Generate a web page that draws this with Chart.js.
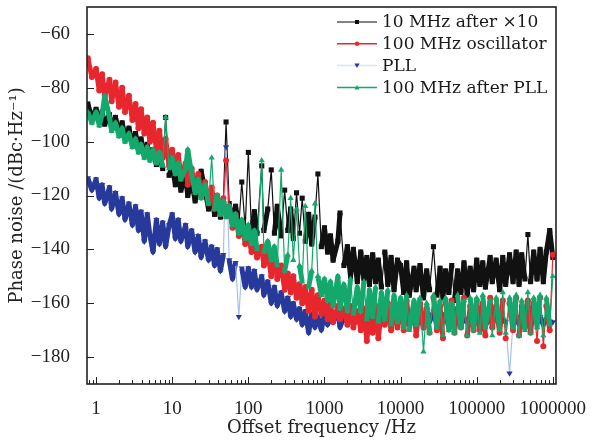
<!DOCTYPE html>
<html lang="en">
<head>
    <meta charset="UTF-8">
    <title>Phase noise</title>
    <script src="https://cdn.jsdelivr.net/npm/chart.js"></script>
    <style>
        body {
            margin: 0;
            background-color: #ffffff;
        }
        canvas {
            display: block;
        }
    </style>
</head>
<body>
    <canvas id="chart" width="593" height="441"></canvas>

    <script>
        // offset frequencies (Hz), shared by all four traces
        const freq = [0.78, 0.88,
            1, 1.1, 1.2, 1.3, 1.5, 1.6, 1.8, 2, 2.2, 2.4, 2.7, 3, 3.3, 3.6, 3.9, 4.3, 4.7, 5.1, 5.6, 6.2, 6.8, 7.5, 8.2, 9.1,
            10, 11, 12, 13, 15, 16, 18, 20, 22, 24, 27, 30, 33, 36, 39, 43, 47, 51, 56, 62, 68, 75, 82, 91,
            100, 110, 120, 130, 150, 160, 180, 200, 220, 240, 270, 300, 330, 360, 390, 430, 470, 510, 560, 620, 680, 750, 820, 910,
            1000, 1100, 1200, 1300, 1500, 1600, 1800, 2000, 2200, 2400, 2700, 3000, 3300, 3600, 3900, 4300, 4700, 5100, 5600, 6200, 6800, 7500, 8200, 9100,
            10000, 11000, 12000, 13000, 15000, 16000, 18000, 20000, 22000, 24000, 27000, 30000, 33000, 36000, 39000, 43000, 47000, 51000, 56000, 62000, 68000, 75000, 82000, 91000,
            100000, 110000, 120000, 130000, 150000, 160000, 180000, 200000, 220000, 240000, 270000, 300000, 330000, 360000, 390000, 430000, 470000, 510000, 560000, 620000, 680000, 750000, 820000, 910000,
            1000000];

        // 10 MHz after x10 (dBc/Hz)
        const tenMhzX10 = [-86, -91,
            -88, -92, -89, -93.5, -90, -95, -91, -96.5, -93, -98, -95, -100.5, -97, -102, -99, -104.5, -101, -106, -103, -108.5, -105, -110, -91, -112.5,
            -109, -116, -111, -118, -113, -120, -115, -122, -117, -111, -118, -125, -120, -127, -121, -128, -122, -92.7, -123, -130, -124, -131, -115, -132,
            -104, -133, -126, -134, -109, -133, -125, -110.5, -134, -124, -135, -118, -133, -125, -136, -119, -134, -121, -137, -127, -138, -128, -112, -139,
            -132, -141, -135, -144, -137, -126.5, -146, -139, -150, -140, -152, -141, -151, -143, -153, -142, -152, -144, -154, -141, -153, -143, -155, -144,
            -146, -156, -145, -157, -147, -155, -146, -158, -148, -155, -139, -157, -147, -158, -148, -156, -146, -159, -148, -156, -145, -157, -147, -155,
            -144, -153, -145, -154, -143, -152, -144, -155, -143, -153, -142, -152, -141, -153, -142, -151, -134.5, -152, -141, -151, -140, -152, -141, -133,
            -143];

        // 100 MHz oscillator
        const osc100 = [-69, -76,
            -73, -81, -75, -83, -77, -85, -78, -87, -80, -89, -83, -92, -86, -95, -88, -97, -91, -100, -93, -103, -96, -106, -99, -109,
            -103, -111, -105, -113, -108, -116, -110, -118, -112, -120, -115, -123, -117, -125, -120, -127, -121, -107, -124, -132, -127, -135, -130, -138,
            -134, -141, -136, -143, -139, -146, -141, -150, -143, -151, -146, -155, -149, -156, -150, -158, -153, -160, -154, -163, -155, -165, -157, -164,
            -159, -166, -160, -167, -161, -166, -162, -168, -161, -169, -163, -170, -162, -174, -164, -171, -161, -173, -163, -168, -160, -170, -162, -169,
            -160, -170, -159, -168, -161, -172, -160, -169, -162, -171, -158, -170, -161, -173, -160, -168, -159, -171, -162, -169, -158, -172, -161, -170,
            -159, -170, -160, -172, -158, -169, -161, -171, -159, -173, -160, -170, -158, -172, -161, -169, -159, -171, -160, -174, -158, -176, -161, -170,
            -142];

        // PLL
        const pll = [-113.5, -118,
            -114, -121, -116, -123, -117, -125, -119, -127, -121, -129, -123, -131, -124, -133, -126, -137, -127, -135, -141, -129, -138, -130, -139, -131,
            -127, -136, -129, -137, -131, -139, -133, -141, -135, -143, -137, -144, -139, -146, -140, -148, -142, -102, -144, -151, -145, -165, -147, -154,
            -147, -154, -148, -155, -150, -157, -152, -160, -154, -161, -156, -163, -158, -165, -160, -166, -162, -168, -163, -171, -164, -169, -165, -170,
            -164, -168, -165, -167, -163, -169, -165, -167, -164, -168, -166, -167, -164, -169, -165, -167, -163, -168, -166, -167, -164, -169, -165, -167,
            -165, -167, -163, -168, -166, -167, -164, -169, -165, -167, -163, -168, -166, -167, -164, -169, -165, -167, -163, -168, -166, -167, -164, -168,
            -165, -167, -166, -168, -166, -167, -165, -168, -166, -167, -186, -167, -165, -168, -166, -167, -164, -168, -166, -167, -165, -168, -166, -167,
            -167];

        // 100 MHz after PLL
        const afterPll = [-89, -93,
            -89, -94, -90, -83, -91, -96, -93, -98, -95, -100, -97, -102, -99, -104, -101, -106, -102, -107, -103, -108, -104, -109, -91, -110,
            -106, -112, -108, -114, -110, -103, -112, -119, -114, -121, -116, -123, -106, -125, -120, -127, -122, -128, -124, -131, -127, -134, -129, -136,
            -131, -138, -133, -140, -107, -141, -137, -144, -139, -146, -110.5, -148, -142, -121, -144, -125, -146, -152, -124, -154, -148, -123, -150, -157,
            -151, -159, -152, -161, -150, -162, -153, -163, -151, -164, -154, -163, -152, -166, -155, -165, -154, -167, -156, -166, -155, -168, -157, -167,
            -158, -169, -157, -170, -159, -168, -158, -178, -160, -171, -157, -169, -159, -172, -158, -170, -160, -171, -157, -169, -159, -172, -158, -170,
            -158, -171, -157, -169, -159, -172, -158, -170, -156, -171, -158, -169, -157, -172, -159, -170, -156, -171, -158, -169, -157, -172, -158, -168,
            -150];

        const xTicks = [1, 10, 100, 1000, 10000, 100000, 1000000];
        const yTicks = [-180, -160, -140, -120, -100, -80, -60];

        const serif = '"DejaVu Serif", serif';
        const tickFont = { family: '"Liberation Serif", serif', size: 19 };

        const series = [
            { label: '10 MHz after \u00d710', values: tenMhzX10, line: '#111111', spur: '#111111', fill: '#111111', legendLine: '#5a5a5a', style: 'rect', r: 3.6, rot: 0, order: 3 },
            { label: '100 MHz oscillator', values: osc100, line: '#e8262d', spur: '#e8262d', fill: '#e8262d', legendLine: '#e8262d', style: 'circle', r: 3, rot: 0, order: 1 },
            { label: 'PLL', values: pll, line: '#27399a', spur: '#a9c2e8', fill: '#27399a', legendLine: '#d6e4f6', style: 'triangle', r: 3.6, rot: 180, order: 2 },
            { label: '100 MHz after PLL', values: afterPll, line: '#14a86c', spur: '#14a86c', fill: '#14a86c', legendLine: '#14a86c', style: 'triangle', r: 3.6, rot: 0, order: 0 }
        ];

        // frame, inward ticks and the legend in the top-right corner
        const decor = {
            id: 'decor',
            afterDatasetsDraw(chart) {
                const { ctx, chartArea: a } = chart;
                const xs = chart.scales.x, ys = chart.scales.y;
                ctx.save();
                ctx.strokeStyle = '#222';
                ctx.lineWidth = 1;
                ctx.beginPath();
                for (let e = -1; e <= 6; e++) {
                    for (let m = 1; m <= 9; m++) {
                        const v = m * Math.pow(10, e);
                        if (v < xs.min || v > xs.max) continue;
                        const px = Math.round(xs.getPixelForValue(v)) + 0.5;
                        const len = m === 1 ? 7 : 4;
                        ctx.moveTo(px, a.bottom);
                        ctx.lineTo(px, a.bottom - len);
                    }
                }
                yTicks.forEach(v => {
                    const py = Math.round(ys.getPixelForValue(v)) + 0.5;
                    ctx.moveTo(a.left, py);
                    ctx.lineTo(a.left + 7, py);
                });
                ctx.stroke();
                ctx.lineWidth = 1.6;
                ctx.strokeRect(a.left, a.top, a.right - a.left, a.bottom - a.top);

                // legend
                ctx.font = '17px ' + serif;
                ctx.textBaseline = 'middle';
                ctx.textAlign = 'left';
                series.forEach((s, i) => {
                    const yy = a.top + 15 + i * 21.8;
                    const x0 = a.right - 219, x1 = a.right - 179, xm = (x0 + x1) / 2;
                    ctx.strokeStyle = s.legendLine;
                    ctx.lineWidth = 1.5;
                    ctx.beginPath();
                    ctx.moveTo(x0, yy);
                    ctx.lineTo(x1, yy);
                    ctx.stroke();
                    ctx.fillStyle = s.fill;
                    ctx.beginPath();
                    if (s.style === 'rect') {
                        ctx.rect(xm - 2, yy - 2, 4, 4);
                    } else if (s.style === 'circle') {
                        ctx.arc(xm, yy, 2.2, 0, Math.PI * 2);
                    } else if (s.rot === 180) {
                        ctx.moveTo(xm - 2.6, yy - 2);
                        ctx.lineTo(xm + 2.6, yy - 2);
                        ctx.lineTo(xm, yy + 2.5);
                    } else {
                        ctx.moveTo(xm - 2.6, yy + 2);
                        ctx.lineTo(xm + 2.6, yy + 2);
                        ctx.lineTo(xm, yy - 2.5);
                    }
                    ctx.fill();
                    ctx.fillStyle = '#1a1a1a';
                    ctx.fillText(s.label, a.right - 174, yy + 1);
                });
                ctx.restore();
            }
        };

        // big jumps (spurs) are drawn as thin lines, the noise floor as a thick band
        const isSpur = c => Math.abs(c.p1.parsed.y - c.p0.parsed.y) > 12;

        const datasets = series.map(s => ({
            label: s.label,
            data: freq.map((f, i) => ({ x: f, y: s.values[i] })),
            borderColor: s.line,
            borderWidth: 5,
            borderJoinStyle: 'round',
            backgroundColor: s.fill,
            pointBackgroundColor: s.fill,
            pointBorderColor: s.fill,
            pointBorderWidth: 0,
            pointStyle: s.style,
            pointRotation: s.rot,
            pointRadius: s.r,
            tension: 0,
            order: s.order,
            segment: {
                borderWidth: c => (isSpur(c) ? 1.2 : 5),
                borderColor: c => (isSpur(c) ? s.spur : s.line)
            }
        }));

        new Chart(document.getElementById('chart'), {
            type: 'line',
            data: { datasets: datasets },
            options: {
                responsive: false,
                animation: false,
                layout: { padding: { left: 0, right: 37, top: 7, bottom: 0 } },
                plugins: {
                    legend: { display: false },
                    tooltip: { enabled: false }
                },
                scales: {
                    x: {
                        type: 'logarithmic',
                        min: 0.76,
                        max: 1100000,
                        afterBuildTicks: scale => { scale.ticks = xTicks.map(v => ({ value: v })); },
                        afterFit: scale => {
                            scale.height = 57;
                            scale.paddingLeft = 0;
                            scale.paddingRight = 0;
                        },
                        ticks: {
                            autoSkip: false,
                            maxRotation: 0,
                            padding: 6,
                            color: '#222',
                            font: tickFont,
                            callback: v => String(v)
                        },
                        grid: { display: false },
                        border: { display: false },
                        title: {
                            display: true,
                            text: 'Offset frequency /Hz',
                            color: '#222',
                            font: { family: serif, size: 18 },
                            padding: { top: 0, bottom: 2 }
                        }
                    },
                    y: {
                        type: 'linear',
                        min: -190,
                        max: -50,
                        afterBuildTicks: scale => { scale.ticks = yTicks.map(v => ({ value: v })); },
                        afterFit: scale => {
                            scale.width = 87;
                            scale.paddingTop = 0;
                            scale.paddingBottom = 0;
                        },
                        ticks: {
                            padding: 9,
                            color: '#222',
                            font: tickFont,
                            callback: v => (v < 0 ? '\u2212' + (-v) : String(v))
                        },
                        grid: { display: false },
                        border: { display: false },
                        title: {
                            display: true,
                            text: 'Phase noise /(dBc\u00b7Hz\u207b\u00b9)',
                            color: '#222',
                            font: { family: serif, size: 18 },
                            padding: { top: 7, bottom: 0 }
                        }
                    }
                }
            },
            plugins: [decor]
        });
    </script>
</body>
</html>
